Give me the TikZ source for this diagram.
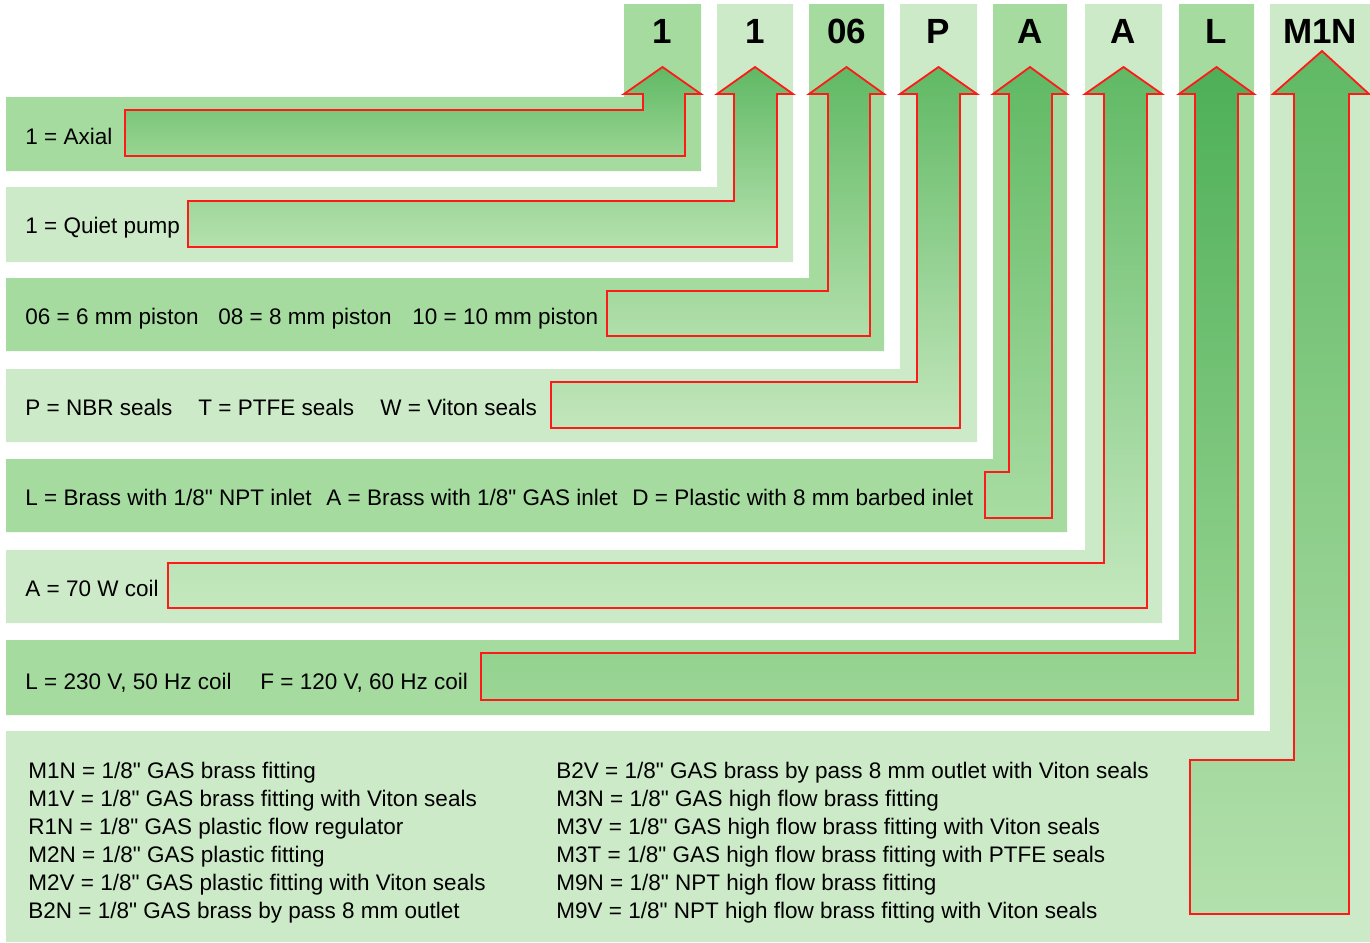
\documentclass[tikz,border=0pt]{standalone}
\usepackage{fontspec}
\setmainfont{Liberation Sans}[Ligatures=TeXOff]
\definecolor{bandD}{HTML}{A6DBA0}
\definecolor{bandL}{HTML}{CCEAC7}
\definecolor{arrRed}{HTML}{FF1A1A}
\definecolor{gTop}{HTML}{60B964}
\definecolor{gTopL}{HTML}{4DAF57}
\definecolor{gBa}{HTML}{99D593}
\definecolor{gBb}{HTML}{B5E1AE}
\definecolor{gBc}{HTML}{B1DFAA}
\definecolor{gBd}{HTML}{C2E6BB}
\definecolor{gBe}{HTML}{A8DCA2}
\definecolor{gBf}{HTML}{C4E8BE}
\definecolor{gBg}{HTML}{9AD594}
\definecolor{gBh}{HTML}{B3E0AC}
\begin{document}
\begin{tikzpicture}[x=0.5pt,y=-0.5pt,
  dk/.style={fill=bandD, draw=none},
  lt/.style={fill=bandL, draw=none},
  arr/.style={draw=arrRed, line width=0.9pt, line join=miter},
  rowtxt/.style={anchor=base west, inner sep=0pt, font=\fontsize{11.25}{13}\selectfont},
  hdr/.style={anchor=base, inner sep=0pt, font=\fontsize{17.5}{20}\selectfont\bfseries}]
\useasboundingbox (0,0) rectangle (1370,942);
% bands (column + row as one L-shape)
\fill[dk] (6,97)  -- (624,97)  -- (624,4)  -- (701,4)  -- (701,171) -- (6,171) -- cycle;
\fill[lt] (6,187) -- (717,187) -- (717,4)  -- (793,4)  -- (793,262) -- (6,262) -- cycle;
\fill[dk] (6,278) -- (809,278) -- (809,4)  -- (884,4)  -- (884,351) -- (6,351) -- cycle;
\fill[lt] (6,369) -- (900,369) -- (900,4)  -- (977,4)  -- (977,442) -- (6,442) -- cycle;
\fill[dk] (6,459) -- (993,459) -- (993,4)  -- (1067,4) -- (1067,532) -- (6,532) -- cycle;
\fill[lt] (6,550) -- (1085,550) -- (1085,4) -- (1162,4) -- (1162,623) -- (6,623) -- cycle;
\fill[dk] (6,640) -- (1179,640) -- (1179,4) -- (1254,4) -- (1254,715) -- (6,715) -- cycle;
\fill[lt] (6,731) -- (1270,731) -- (1270,4) -- (1370,4) -- (1370,942) -- (6,942) -- cycle;
% arrows
\path[arr, top color=gTop, bottom color=gBa] (624,94) -- (662.5,67) -- (701,94) -- (685,94) -- (685,156) -- (125,156) -- (125,110) -- (643,110) -- (643,94) -- cycle;
\path[arr, top color=gTop, bottom color=gBb] (717,94) -- (755,67) -- (793,94) -- (777,94) -- (777,247) -- (188,247) -- (188,201) -- (734,201) -- (734,94) -- cycle;
\path[arr, top color=gTop, bottom color=gBc] (809,94) -- (846.5,67) -- (884,94) -- (870,94) -- (870,336) -- (607,336) -- (607,291) -- (828,291) -- (828,94) -- cycle;
\path[arr, top color=gTop, bottom color=gBd] (900,94) -- (938.5,67) -- (977,94) -- (960,94) -- (960,428) -- (551,428) -- (551,382) -- (917,382) -- (917,94) -- cycle;
\path[arr, top color=gTop, bottom color=gBe] (993,94) -- (1030,67) -- (1067,94) -- (1052,94) -- (1052,518) -- (985,518) -- (985,472) -- (1009,472) -- (1009,94) -- cycle;
\path[arr, top color=gTop, bottom color=gBf] (1085,94) -- (1123.5,67) -- (1162,94) -- (1147,94) -- (1147,608) -- (168,608) -- (168,563) -- (1104,563) -- (1104,94) -- cycle;
\path[arr, top color=gTopL, bottom color=gBg] (1179,94) -- (1216.5,67) -- (1254,94) -- (1238,94) -- (1238,700) -- (481,700) -- (481,653) -- (1195,653) -- (1195,94) -- cycle;
\path[arr, top color=gTop, bottom color=gBh] (1273,94) -- (1322,51) -- (1369,94) -- (1349,94) -- (1349,914) -- (1190,914) -- (1190,760) -- (1294,760) -- (1294,94) -- cycle;
% headers
\node[hdr] (h1) at (662.5,43) {1};
\node[hdr] (h2) at (755,43) {1};
\node[hdr] (h3) at (846.5,43) {06};
\node[hdr] (h4) at (938.5,43) {P};
\node[hdr] (h5) at (1030,43) {A};
\node[hdr] (h6) at (1123.5,43) {A};
\node[hdr] (h7) at (1216.5,43) {L};
\node[hdr] (h8) at (1320,43) {M1N};
% row texts
\node[rowtxt] (r1) at (25,144) {1 = Axial};
\node[rowtxt] (r2) at (25,233) {1 = Quiet pump};
\node[rowtxt] (r3a) at (25,324) {06 = 6 mm piston};
\node[rowtxt] (r3b) at (218,324) {08 = 8 mm piston};
\node[rowtxt] (r3c) at (412,324) {10 = 10 mm piston};
\node[rowtxt] (r4a) at (25,415) {P = NBR seals};
\node[rowtxt] (r4b) at (198,415) {T = PTFE seals};
\node[rowtxt] (r4c) at (380,415) {W = Viton seals};
\node[rowtxt] (r5a) at (25,505) {L = Brass with 1/8" NPT inlet};
\node[rowtxt] (r5b) at (326,505) {A = Brass with 1/8" GAS inlet};
\node[rowtxt] (r5c) at (632,505) {D = Plastic with 8 mm barbed inlet};
\node[rowtxt] (r6) at (25,596) {A = 70 W coil};
\node[rowtxt] (r7a) at (25,689) {L = 230 V, 50 Hz coil};
\node[rowtxt] (r7b) at (260,689) {F = 120 V, 60 Hz coil};
% fittings
\node[rowtxt] (f1) at (28,778) {M1N = 1/8" GAS brass fitting};
\node[rowtxt] (f2) at (28,806) {M1V = 1/8" GAS brass fitting with Viton seals};
\node[rowtxt] (f3) at (28,834) {R1N = 1/8" GAS plastic flow regulator};
\node[rowtxt] (f4) at (28,862) {M2N = 1/8" GAS plastic fitting};
\node[rowtxt] (f5) at (28,890) {M2V = 1/8" GAS plastic fitting with Viton seals};
\node[rowtxt] (f6) at (28,918) {B2N = 1/8" GAS brass by pass 8 mm outlet};
\node[rowtxt] (g1) at (556,778) {B2V = 1/8" GAS brass by pass 8 mm outlet with Viton seals};
\node[rowtxt] (g2) at (556,806) {M3N = 1/8" GAS high flow brass fitting};
\node[rowtxt] (g3) at (556,834) {M3V = 1/8" GAS high flow brass fitting with Viton seals};
\node[rowtxt] (g4) at (556,862) {M3T = 1/8" GAS high flow brass fitting with PTFE seals};
\node[rowtxt] (g5) at (556,890) {M9N = 1/8" NPT high flow brass fitting};
\node[rowtxt] (g6) at (556,918) {M9V = 1/8" NPT high flow brass fitting with Viton seals};
\end{tikzpicture}
\end{document}
